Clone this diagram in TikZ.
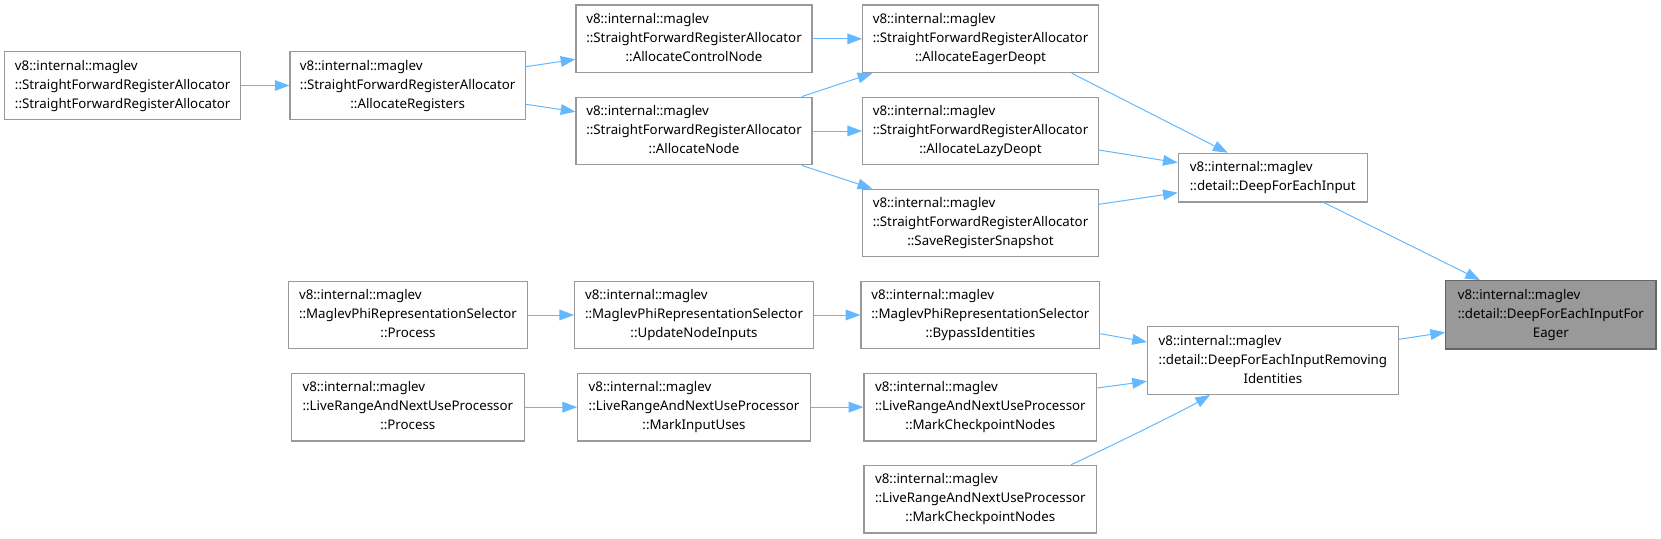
\documentclass[tikz,border=0pt]{standalone}
\usepackage{fontspec}
\setmainfont{Noto Sans}
\usetikzlibrary{arrows.meta,calc}
\definecolor{edgec}{HTML}{63B8FF}
\definecolor{boxc}{HTML}{999999}
\definecolor{hlfill}{HTML}{999999}
\definecolor{hlborder}{HTML}{666666}
\newcommand\lblthree[3]{\begin{tabular}{@{}c@{}}\multicolumn{1}{@{}l@{}}{#1}\\#2\\#3\end{tabular}}
\newcommand\lbltwo[2]{\begin{tabular}{@{}l@{}}#1\\#2\end{tabular}}
\tikzset{
  fbox/.style={draw=boxc, line width=1.2pt, fill=white, inner sep=0pt, minimum height=67.6pt,
    font=\fontsize{13.3}{19}\selectfont, text=black},
  hbox/.style={fbox, draw=hlborder, fill=hlfill},
  edge/.style={draw=edgec, line width=1pt, -{Triangle[length=14.7pt,width=10.7pt]}},
}
\begin{document}
\begin{tikzpicture}[x=1pt,y=-1pt]
\useasboundingbox (0,0) rectangle (1661,538);
% column 1
\node[fbox, minimum width=236pt] (A) at (122.7,85.5) {\lblthree{v8::internal::maglev}{::StraightForwardRegisterAllocator}{::StraightForwardRegisterAllocator}};
% column 2
\node[fbox, minimum width=235.3pt] (B) at (407.7,85.5) {\lblthree{v8::internal::maglev}{::StraightForwardRegisterAllocator}{::AllocateRegisters}};
\node[fbox, minimum width=238.6pt] (MP) at (408,315) {\lblthree{v8::internal::maglev}{::MaglevPhiRepresentationSelector}{::Process}};
\node[fbox, minimum width=233pt] (LP) at (407.8,407.15) {\lblthree{v8::internal::maglev}{::LiveRangeAndNextUseProcessor}{::Process}};
% column 3
\node[fbox, minimum width=236pt] (CN) at (694,38.85) {\lblthree{v8::internal::maglev}{::StraightForwardRegisterAllocator}{::AllocateControlNode}};
\node[fbox, minimum width=236pt] (AN) at (694,131) {\lblthree{v8::internal::maglev}{::StraightForwardRegisterAllocator}{::AllocateNode}};
\node[fbox, minimum width=238.6pt] (UN) at (694,315) {\lblthree{v8::internal::maglev}{::MaglevPhiRepresentationSelector}{::UpdateNodeInputs}};
\node[fbox, minimum width=232.6pt] (MI) at (694,407.15) {\lblthree{v8::internal::maglev}{::LiveRangeAndNextUseProcessor}{::MarkInputUses}};
% column 4
\node[fbox, minimum width=235.6pt] (ED) at (980.5,38.85) {\lblthree{v8::internal::maglev}{::StraightForwardRegisterAllocator}{::AllocateEagerDeopt}};
\node[fbox, minimum width=235.6pt] (LD) at (980.5,131) {\lblthree{v8::internal::maglev}{::StraightForwardRegisterAllocator}{::AllocateLazyDeopt}};
\node[fbox, minimum width=235.6pt] (SR) at (980.5,223) {\lblthree{v8::internal::maglev}{::StraightForwardRegisterAllocator}{::SaveRegisterSnapshot}};
\node[fbox, minimum width=238.7pt] (BI) at (980.35,315) {\lblthree{v8::internal::maglev}{::MaglevPhiRepresentationSelector}{::BypassIdentities}};
\node[fbox, minimum width=232.7pt] (MC1) at (980.35,407.15) {\lblthree{v8::internal::maglev}{::LiveRangeAndNextUseProcessor}{::MarkCheckpointNodes}};
\node[fbox, minimum width=232.7pt] (MC2) at (980.35,499.15) {\lblthree{v8::internal::maglev}{::LiveRangeAndNextUseProcessor}{::MarkCheckpointNodes}};
% column 5
\node[fbox, minimum width=189pt, minimum height=48.7pt] (DI) at (1272.8,177.65) {\lbltwo{v8::internal::maglev}{::detail::DeepForEachInput}};
\node[fbox, minimum width=250.8pt] (R) at (1272.9,360.5) {\lblthree{v8::internal::maglev}{::detail::DeepForEachInputRemoving}{Identities}};
% column 6
\node[hbox, minimum width=210.3pt, minimum height=68.3pt] (G) at (1550.85,314.85) {\lblthree{v8::internal::maglev}{::detail::DeepForEachInputFor}{Eager}};
% edges
\draw[edge] (A.east) -- (B.west);
\draw[edge] ($(B.east)+(0,-18.8)$) -- ($(CN.west)+(0,20.45)$);
\draw[edge] ($(B.east)+(0,18.8)$) -- ($(AN.west)+(0,-19.3)$);
\draw[edge] (CN.east) -- (ED.west);
\draw[edge] ($(AN.north)+(107.7,0)$) -- ($(ED.south)+(-108.2,0)$);
\draw[edge] (AN.east) -- (LD.west);
\draw[edge] ($(AN.south)+(107.7,0)$) -- ($(SR.north)+(-108.2,0)$);
\draw[edge] ($(ED.south)+(91.2,0)$) -- ($(DI.north)+(-45.1,0)$);
\draw[edge] ($(LD.east)+(0,19)$) -- ($(DI.west)+(0,-14.95)$);
\draw[edge] ($(SR.east)+(0,-18.7)$) -- ($(DI.west)+(0,15.05)$);
\draw[edge] ($(DI.south)+(51.2,0)$) -- ($(G.north)+(-70.85,0)$);
\draw[edge] ($(R.east)+(0,-21.2)$) -- ($(G.west)+(0,17.45)$);
\draw[edge] ($(BI.east)+(0,18.7)$) -- ($(R.west)+(0,-18.5)$);
\draw[edge] ($(MC1.east)+(0,-19.15)$) -- ($(R.west)+(0,20.8)$);
\draw[edge] ($(MC2.north)+(90.65,0)$) .. controls ($(MC2.north)+(125,-16)$) and ($(R.south)+(-90,16)$) .. ($(R.south)+(-62.9,0)$);
\draw[edge] (MP.east) -- (UN.west);
\draw[edge] (UN.east) -- (BI.west);
\draw[edge] (LP.east) -- (MI.west);
\draw[edge] (MI.east) -- (MC1.west);
\end{tikzpicture}
\end{document}
